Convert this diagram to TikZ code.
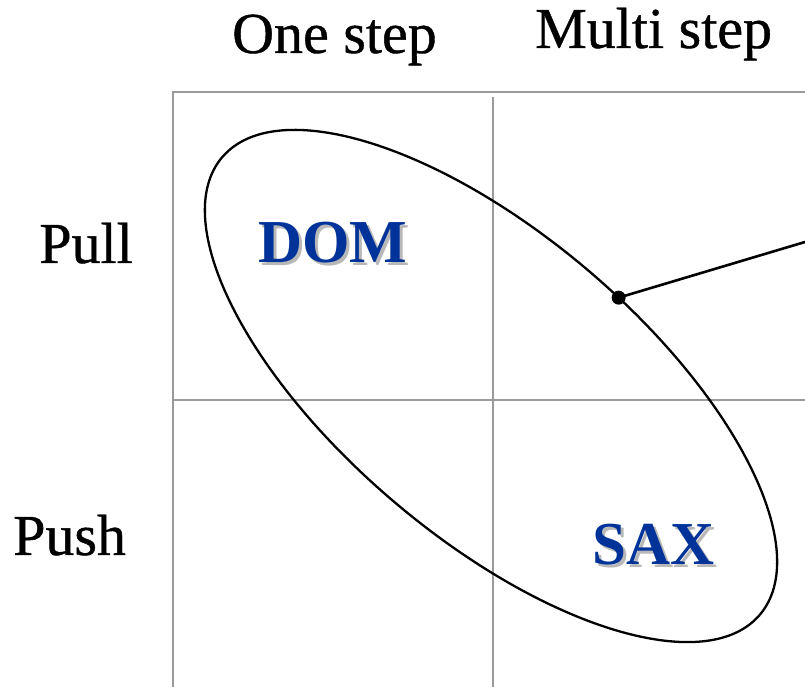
\documentclass[tikz,border=0pt]{standalone}
\usepackage{fontspec}
\setmainfont{Liberation Serif}
\newfontfamily\headfont[FakeBold=0.7]{Liberation Serif}
\definecolor{gridgray}{HTML}{9A9A9A}
\definecolor{apiblue}{RGB}{0,51,153}
\definecolor{shadowgray}{HTML}{B8B8B8}
% bold blue label with a soft grey drop shadow behind it
\newcommand{\shadowed}[1]{\makebox[0pt][l]{\hspace{3pt}\raisebox{-3pt}{\color{shadowgray}#1}}#1}
\tikzset{
  gridline/.style={draw=gridgray, line width=2pt},
  heading/.style={inner sep=0pt, font=\headfont\fontsize{58}{62}\selectfont},
  apilabel/.style={inner sep=0pt, text=apiblue, font=\fontsize{61}{64}\selectfont\bfseries},
}
\begin{document}
\begin{tikzpicture}[x=1pt, y=1pt]
\useasboundingbox (0,0) rectangle (805,687);

% table grid
\coordinate (tl) at (173,595);
\coordinate (tr) at (805,595);
\coordinate (bl) at (173,0);
\coordinate (mt) at (493,590);
\coordinate (mb) at (493,0);
\coordinate (ml) at (173,287);
\coordinate (mr) at (805,287);
\draw[gridline] (tr) -- (tl) -- (bl);
\draw[gridline] (mt) -- (mb);
\draw[gridline] (ml) -- (mr);

% column and row headings
\node[heading, anchor=base west] (one) at (232,634) {One step};
\node[heading, anchor=base west] (multi) at (535,639) {Multi step};
\node[heading, anchor=base east] (pull) at (133,424) {Pull};
\node[heading, anchor=base west] (push) at (13,132) {Push};

% API names
\node[apilabel, anchor=base west] (dom) at (258,424) {\shadowed{DOM}};
\node[apilabel, anchor=base west] (sax) at (592,122) {\shadowed{SAX}};

% grouping oval
\begin{scope}[shift={(491,301)}, rotate=-40.4]
  \draw[line width=2.3pt] (0,0) ellipse [x radius=353pt, y radius=151pt];
  \coordinate (dot) at (83.5:353pt and 151pt);
\end{scope}

% pointer leaving the oval
\coordinate (exit) at (805,445);
\draw[line width=2.6pt] (dot) -- (exit);
\fill (dot) circle [radius=7pt];
\end{tikzpicture}
\end{document}
